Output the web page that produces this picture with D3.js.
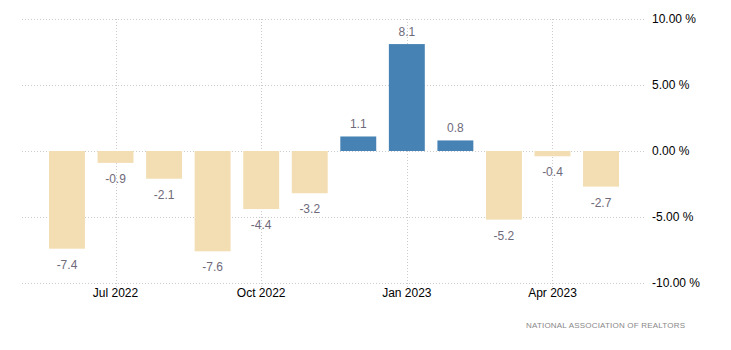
<!DOCTYPE html>
<html>
<head>
<meta charset="utf-8">
<script src="https://cdn.jsdelivr.net/npm/d3@7"></script>
<style>
  body { margin: 0; background: #fff; }
  svg { font-family: Arial, "Liberation Sans", sans-serif; }
</style>
</head>
<body>
<svg width="731" height="350"></svg>
<script>
// monthly change, Jun 2022 - May 2023
var months = ["2022-06", "2022-07", "2022-08", "2022-09", "2022-10", "2022-11",
              "2022-12", "2023-01", "2023-02", "2023-03", "2023-04", "2023-05"];
var values = [-7.4, -0.9, -2.1, -7.6, -4.4, -3.2, 1.1, 8.1, 0.8, -5.2, -0.4, -2.7];
var yTicks = [10, 5, 0, -5, -10];
var xTickMonths = ["2022-07", "2022-10", "2023-01", "2023-04"];
var xTickLabels = ["Jul 2022", "Oct 2022", "Jan 2023", "Apr 2023"];
var source = "NATIONAL ASSOCIATION OF REALTORS";

var svg = d3.select("svg"),
    plot = {left: 22, right: 644, top: 19, bottom: 283};

// plain hyphen for negatives, like the original
var fmt = d3.formatLocale({decimal: ".", thousands: ",", grouping: [3], currency: ["", ""], minus: "-"});

var x = d3.scaleBand().domain(months).range([42.7, 625.3])
    .paddingInner(0.26).paddingOuter(0.13);
var y = d3.scaleLinear().domain([-10, 10]).range([plot.bottom, plot.top]);

// horizontal grid
svg.append("g").selectAll("line")
  .data(yTicks)
  .enter().append("line")
    .attr("x1", plot.left).attr("x2", plot.right)
    .attr("y1", function(d) { return Math.round(y(d)) + 0.5; })
    .attr("y2", function(d) { return Math.round(y(d)) + 0.5; })
    .attr("stroke", "#ccc").attr("stroke-dasharray", "1,2");

// vertical grid at quarter months
svg.append("g").selectAll("line")
  .data(xTickMonths)
  .enter().append("line")
    .attr("x1", function(d) { return Math.round(x(d) + x.bandwidth() / 2) + 0.5; })
    .attr("x2", function(d) { return Math.round(x(d) + x.bandwidth() / 2) + 0.5; })
    .attr("y1", plot.top).attr("y2", plot.bottom + 5)
    .attr("stroke", "#ccc").attr("stroke-dasharray", "1,2");

// y axis labels on the right
var yAxis = svg.append("g")
    .attr("transform", "translate(" + (plot.right + 5) + ",0)")
    .call(d3.axisRight(y).tickValues(yTicks).tickSize(0)
      .tickFormat(function(d) { return fmt.format(".2f")(d) + " %"; }));
yAxis.select(".domain").remove();
yAxis.selectAll("text").attr("font-size", 12).attr("fill", "#000")
    .attr("font-family", "Arial, 'Liberation Sans', sans-serif");

// x axis labels
var xAxis = svg.append("g")
    .attr("transform", "translate(0," + (plot.bottom + 2) + ")")
    .call(d3.axisBottom(x).tickValues(xTickMonths).tickSize(0)
      .tickFormat(function(d, i) { return xTickLabels[i]; }));
xAxis.select(".domain").remove();
xAxis.selectAll("text").attr("font-size", 12).attr("fill", "#000")
    .attr("font-family", "Arial, 'Liberation Sans', sans-serif");

// bars
svg.append("g").selectAll("rect")
  .data(values)
  .enter().append("rect")
    .attr("x", function(d, i) { return x(months[i]); })
    .attr("y", function(d) { return y(Math.max(0, d)); })
    .attr("width", x.bandwidth())
    .attr("height", function(d) { return Math.abs(y(d) - y(0)); })
    .attr("fill", function(d) { return d >= 0 ? "#4682b4" : "#f3deb3"; });

// value labels
svg.append("g").selectAll("text")
  .data(values)
  .enter().append("text")
    .attr("x", function(d, i) { return x(months[i]) + x.bandwidth() / 2; })
    .attr("y", function(d) { return d >= 0 ? y(d) - 8 : y(d) + 20; })
    .attr("text-anchor", "middle")
    .attr("font-size", 12)
    .attr("fill", "#6f6a7a")
    .text(function(d) { return fmt.format(".1f")(d); });

// source
svg.append("text")
    .attr("x", 526).attr("y", 328)
    .attr("font-size", 8)
    .attr("textLength", 159)
    .attr("lengthAdjust", "spacing")
    .attr("fill", "#888")
    .text(source);
</script>
</body>
</html>
